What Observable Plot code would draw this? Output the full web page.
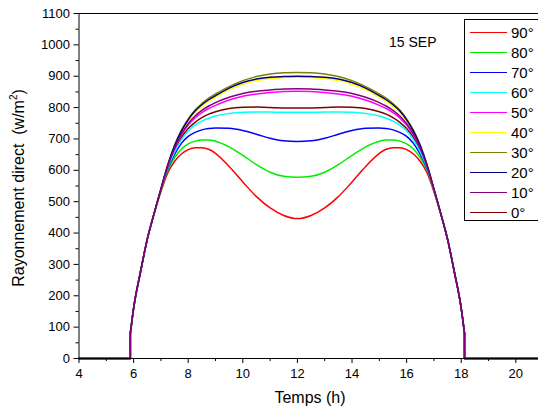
<!DOCTYPE html>
<html><head><meta charset="utf-8">
<script src="https://cdn.jsdelivr.net/npm/d3@7"></script>
<script src="https://cdn.jsdelivr.net/npm/@observablehq/plot@0.6"></script>
<style>
body{margin:0;background:#fff;}
#wrap{position:relative;width:538px;height:410px;overflow:hidden;font-family:"Liberation Sans",Arial,sans-serif;color:#000;background:#fff;}
#wrap svg{position:absolute;left:0;top:0;}
.ylab{position:absolute;left:18px;top:188px;transform:translate(-50%,-50%) rotate(-90deg);white-space:nowrap;font-size:16px;}
.xlab{position:absolute;left:310px;top:398px;transform:translate(-50%,-50%);white-space:nowrap;font-size:16px;}
.note{position:absolute;left:389px;top:34px;font-size:14px;white-space:nowrap;}
#legend{position:absolute;left:464px;top:19px;width:80px;height:202px;border:1px solid #000;background:#fff;box-sizing:border-box;}
.row{position:absolute;left:0;height:20px;width:80px;}
.row .ln{position:absolute;left:5px;top:9px;width:37px;height:0;border-top:1.5px solid;}
.row .tx{position:absolute;left:46px;top:1px;font-size:15px;line-height:18px;}
</style></head>
<body><div id="wrap"></div>
<script>
// Time axis (hours)
const hours = [4, 5.88, 5.88, 6, 6.25, 6.5, 6.75, 7, 7.25, 7.5, 7.75, 8, 8.25, 8.5, 8.75, 9, 9.5, 10, 10.5, 11, 11.5, 12, 12.5, 13, 13.5, 14, 14.5, 15, 15.25, 15.5, 15.75, 16, 16.25, 16.5, 16.75, 17, 17.25, 17.5, 17.75, 18, 18.12, 18.12, 21];

// Direct radiation (W/m²) per tilt angle
const tilt90 = [0,0,80,160,275,380,462,532, 592,628,652,666,672,672,667,654,612,563,516,480,456,446, 456,480,516,563,612,654,667,672,672,666,652,628,592,532,462,380,275,160, 80,0,0];
const tilt80 = [0,0,80,160,275,380,462,535, 600,640,668,684,693,697,697,693,675,648,618,594,581,578, 581,594,618,648,675,693,697,697,693,684,668,640,600,535,462,380,275,160, 80,0,0];
const tilt70 = [0,0,80,160,275,380,462,537, 605,651,686,708,721,729,733,735,734,727,715,702,694,692, 694,702,715,727,734,735,733,729,721,708,686,651,605,537,462,380,275,160, 80,0,0];
const tilt60 = [0,0,80,160,275,380,462,538, 608,658,697,725,744,757,766,773,781,785,786,786,785,785, 785,786,786,785,781,773,766,757,744,725,697,658,608,538,462,380,275,160, 80,0,0];
const tilt50 = [0,0,80,160,275,380,462,540, 612,668,712,744,767,784,797,807,824,836,843,848,851,852, 851,848,843,836,824,807,797,784,767,744,712,668,612,540,462,380,275,160, 80,0,0];
const tilt40 = [0,0,80,160,275,380,462,540, 615,676,722,757,784,804,820,833,857,874,886,892,896,897, 896,892,886,874,857,833,820,804,784,757,722,676,615,540,462,380,275,160, 80,0,0];
const tilt30 = [0,0,80,160,275,380,462,540, 617,680,728,764,792,813,830,844,867,886,899,907,911,912, 911,907,899,886,867,844,830,813,792,764,728,680,617,540,462,380,275,160, 80,0,0];
const tilt20 = [0,0,80,160,275,380,462,540, 616,678,725,761,789,809,825,838,862,880,891,897,899,900, 899,897,891,880,862,838,825,809,789,761,725,678,616,540,462,380,275,160, 80,0,0];
const tilt10 = [0,0,80,160,275,380,462,540, 613,671,716,749,773,791,805,816,833,845,852,856,859,860, 859,856,852,845,833,816,805,791,773,749,716,671,613,540,462,380,275,160, 80,0,0];
const tilt0  = [0,0,80,160,275,380,462,539, 610,663,704,733,753,768,779,787,797,801,802,800,799,799, 799,800,802,801,797,787,779,768,753,733,704,663,610,539,462,380,275,160, 80,0,0];

const seriesLabels = ["90°","80°","70°","60°","50°","40°","30°","20°","10°","0°"];
const seriesValues = [tilt90, tilt80, tilt70, tilt60, tilt50, tilt40, tilt30, tilt20, tilt10, tilt0];
const seriesColors = ["#ff0000","#00ee00","#0000ff","#00ffff","#ff00ff","#ffff00","#808000","#000080","#800080","#800000"];

const yTicks = [0,100,200,300,400,500,600,700,800,900,1000,1100];
const yMinor = [50,150,250,350,450,550,650,750,850,950,1050];
const xTicks = [4,6,8,10,12,14,16,18,20];
const xMinor = [5,7,9,11,13,15,17,19];

// draw order: 0° first, then 90° ... 10° (10° ends on top)
const drawOrder = [9,0,1,2,3,4,5,6,7,8];

const marks = [];
for (const k of drawOrder) {
  const rows = hours.map((t, i) => ({t, v: seriesValues[k][i], i}));
  const day = rows.filter(r => r.i >= 2 && r.i <= 40);
  const left = rows.filter(r => r.i <= 2);
  const right = rows.filter(r => r.i >= 40);
  const st = {x: "t", y: "v", stroke: seriesColors[k], strokeWidth: 1.5};
  marks.push(Plot.line(left, st));
  marks.push(Plot.line(right, st));
  marks.push(Plot.line(day, {...st, curve: "monotone-x"}));
}

const chart = Plot.plot({
  width: 538, height: 410,
  marginLeft: 78.5, marginRight: 0, marginTop: 13, marginBottom: 52,
  style: {fontFamily: '"Liberation Sans", Arial, sans-serif', fontSize: "13px", color: "#000", background: "transparent"},
  x: {domain: [4, 20.83]},
  y: {domain: [0, 1100]},
  marks: [
    Plot.ruleY([1100], {stroke: "#000", strokeWidth: 1}),
    ...marks,
    Plot.axisY({ticks: yTicks, tickFormat: d => String(d), tickSize: 5, tickPadding: 4, label: null, fontSize: 13}),
    Plot.axisY({ticks: yMinor, tickSize: 3, text: null, label: null}),
    Plot.axisX({ticks: xTicks, tickFormat: d => String(d), tickSize: 5, tickPadding: 5, label: null, fontSize: 13}),
    Plot.axisX({ticks: xMinor, tickSize: 3, text: null, label: null}),
    Plot.ruleX([4], {stroke: "#000", strokeWidth: 1}),
    Plot.ruleY([0], {stroke: "#000", strokeWidth: 1})
  ]
});

const wrap = document.getElementById("wrap");
wrap.appendChild(chart);

const yl = document.createElement("div");
yl.className = "ylab";
yl.innerHTML = "Rayonnement direct&nbsp; (w/m<sup style=\"font-size:10px\">2</sup>)";
wrap.appendChild(yl);

const xl = document.createElement("div");
xl.className = "xlab";
xl.textContent = "Temps (h)";
wrap.appendChild(xl);

const note = document.createElement("div");
note.className = "note";
note.textContent = "15 SEP";
wrap.appendChild(note);

const lg = document.createElement("div");
lg.id = "legend";
seriesLabels.forEach((lab, i) => {
  const r = document.createElement("div");
  r.className = "row";
  r.style.top = (3 + i * 20) + "px";
  r.innerHTML = `<div class="ln" style="border-color:${seriesColors[i]}"></div><div class="tx">${lab}</div>`;
  lg.appendChild(r);
});
wrap.appendChild(lg);
</script>
</body></html>
